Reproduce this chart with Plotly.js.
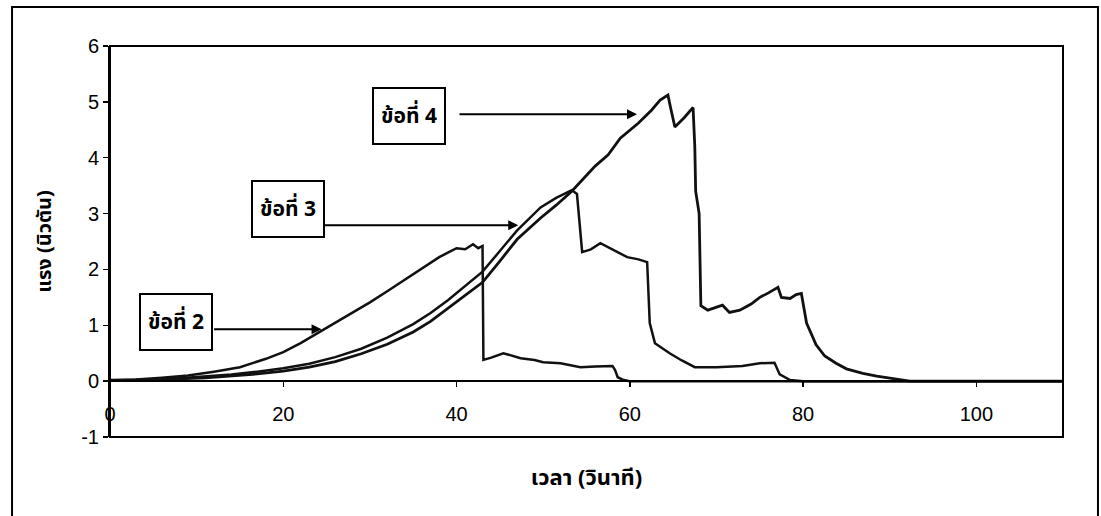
<!DOCTYPE html>
<html>
<head>
<meta charset="utf-8">
<script src="https://cdn.plot.ly/plotly-3.0.1.min.js"></script>
<style>html,body{margin:0;padding:0;background:#fff;}#chart{width:1101px;height:516px;}</style>
</head>
<body>
<div id="chart"></div>
<script>
// ข้อที่ 2
var time2 = [0, 3, 6, 9, 12, 15, 18, 20, 22, 24.4, 26, 28, 30, 32, 35, 37, 38, 39, 40, 41, 41.9, 42.5, 43, 43.1, 44, 45.4, 46.5, 47.4, 49, 50, 52, 54.3, 56, 58, 58.3, 58.6, 59.3, 60, 70, 80, 90, 100, 110];
var force2 = [0.02, 0.03, 0.06, 0.10, 0.17, 0.25, 0.40, 0.52, 0.68, 0.90, 1.05, 1.22, 1.41, 1.61, 1.91, 2.11, 2.22, 2.30, 2.38, 2.36, 2.45, 2.38, 2.42, 0.38, 0.42, 0.50, 0.45, 0.41, 0.38, 0.34, 0.32, 0.25, 0.26, 0.27, 0.20, 0.07, 0.02, 0, 0, 0, 0, 0, 0];
// ข้อที่ 3
var time3 = [0, 4, 8, 11, 14, 17, 20, 23, 26, 29, 32, 35, 37, 39, 41, 43, 45, 47, 49.7, 51.5, 53.3, 53.9, 54.5, 55.5, 56.6, 57.5, 58.5, 59.7, 61, 62, 62.3, 62.9, 64.6, 66, 67.5, 70, 73, 75, 76.7, 77.3, 78.5, 80, 90, 100, 110];
var force3 = [0.01, 0.02, 0.05, 0.08, 0.12, 0.17, 0.23, 0.31, 0.43, 0.58, 0.78, 1.02, 1.22, 1.45, 1.70, 1.96, 2.33, 2.70, 3.11, 3.28, 3.42, 3.35, 2.31, 2.36, 2.47, 2.40, 2.32, 2.22, 2.18, 2.13, 1.04, 0.68, 0.50, 0.37, 0.25, 0.25, 0.27, 0.32, 0.33, 0.12, 0.02, 0, 0, 0, 0];
// ข้อที่ 4
var time4 = [0, 4, 8, 11, 14, 17, 20, 23, 26, 29, 32, 35, 37, 39, 41, 43, 45, 47, 49.7, 51.5, 53.3, 56, 57.5, 58.9, 61, 62.5, 63.5, 64.4, 64.7, 65.2, 66.3, 67.3, 67.5, 67.6, 68.0, 68.2, 69, 70, 70.7, 71.5, 72.7, 74, 75, 76, 77.1, 77.5, 78.5, 79.2, 79.8, 80.4, 81.5, 82.5, 83.8, 85, 86.9, 88.5, 90, 92.3, 100, 110];
var force4 = [0.01, 0.02, 0.04, 0.06, 0.09, 0.13, 0.18, 0.25, 0.35, 0.49, 0.66, 0.88, 1.07, 1.30, 1.53, 1.77, 2.15, 2.54, 2.92, 3.15, 3.40, 3.85, 4.05, 4.35, 4.62, 4.85, 5.03, 5.12, 4.90, 4.55, 4.72, 4.90, 4.20, 3.40, 3.00, 1.35, 1.27, 1.33, 1.36, 1.23, 1.27, 1.38, 1.50, 1.58, 1.68, 1.50, 1.48, 1.55, 1.57, 1.04, 0.65, 0.45, 0.32, 0.22, 0.14, 0.09, 0.05, 0.00, 0, 0];

var seriesNames = ['ข้อที่ 2', 'ข้อที่ 3', 'ข้อที่ 4'];
var xTickVals = [0, 20, 40, 60, 80, 100];
var yTickVals = [-1, 0, 1, 2, 3, 4, 5, 6];
var xTitle = 'เวลา (วินาที)';
var yTitle = 'แรง (นิวตัน)';

var thaiFont = '"Noto Sans Thai", "Loma", "Garuda", "Tahoma", "Noto Sans", sans-serif';
var numFont = '"Liberation Sans", Arial, sans-serif';

var lineStyle = {color: '#111', width: 2.5};
var traces = [
  {x: time2, y: force2, name: seriesNames[0], mode: 'lines', line: lineStyle},
  {x: time3, y: force3, name: seriesNames[1], mode: 'lines', line: lineStyle},
  {x: time4, y: force4, name: seriesNames[2], mode: 'lines', line: {color: '#111', width: 2.8}}
];

function box(txt, x, y) {
  return {text: '<b>' + txt + '</b>', x: x, y: y, xref: 'x', yref: 'y', showarrow: false,
    font: {family: thaiFont, size: 21, color: '#000'},
    bgcolor: '#fff', bordercolor: '#000', borderwidth: 2, width: 68, height: 52};
}
function arrow(x, y, ax) {
  return {text: '', x: x, y: y, xref: 'x', yref: 'y', showarrow: true,
    ax: ax, ay: 0, arrowhead: 2, arrowsize: 1, arrowwidth: 2, arrowcolor: '#000'};
}

var layout = {
  width: 1101, height: 516,
  margin: {l: 110, r: 38, t: 46, b: 79},
  paper_bgcolor: '#fff', plot_bgcolor: '#fff',
  showlegend: false,
  xaxis: {
    range: [0, 110], tickvals: xTickVals, ticktext: xTickVals.map(String),
    anchor: 'free', position: 1/7,
    showline: true, linecolor: '#000', linewidth: 2,
    ticks: 'outside', ticklen: 5, tickwidth: 1.5, tickcolor: '#000',
    ticklabelstandoff: 10,
    showgrid: false, zeroline: false,
    tickfont: {family: numFont, size: 20, color: '#000'},
    title: {text: xTitle, standoff: 44, font: {family: thaiFont, size: 22, color: '#000', weight: 'bold'}},
    automargin: false
  },
  yaxis: {
    range: [-1, 6], tickvals: yTickVals, ticktext: yTickVals.map(String),
    showline: true, linecolor: '#000', linewidth: 2,
    ticks: 'outside', ticklen: 5, tickwidth: 1.5, tickcolor: '#000',
    showgrid: false, zeroline: false,
    tickfont: {family: numFont, size: 20, color: '#000'},
    title: {text: yTitle, standoff: 24, font: {family: thaiFont, size: 20, color: '#000', weight: 'bold'}},
    automargin: false
  },
  shapes: [
    {type: 'rect', xref: 'paper', yref: 'paper', x0: 0, x1: 1, y0: 0, y1: 1, line: {color: '#000', width: 2}},
    {type: 'rect', xref: 'paper', yref: 'paper', x0: -0.1028, x1: 1.0367, y0: -0.215, y1: 1.0997, line: {color: '#000', width: 2}}
  ],
  annotations: [
    box(seriesNames[0], 7.66, 1.06),
    box(seriesNames[1], 20.56, 3.09),
    box(seriesNames[2], 34.56, 4.74),
    arrow(24.42, 0.93, -109),
    arrow(47.12, 2.79, -195),
    arrow(60.83, 4.78, -179)
  ]
};

Plotly.newPlot('chart', traces, layout, {displayModeBar: false, staticPlot: true});
</script>
</body>
</html>
